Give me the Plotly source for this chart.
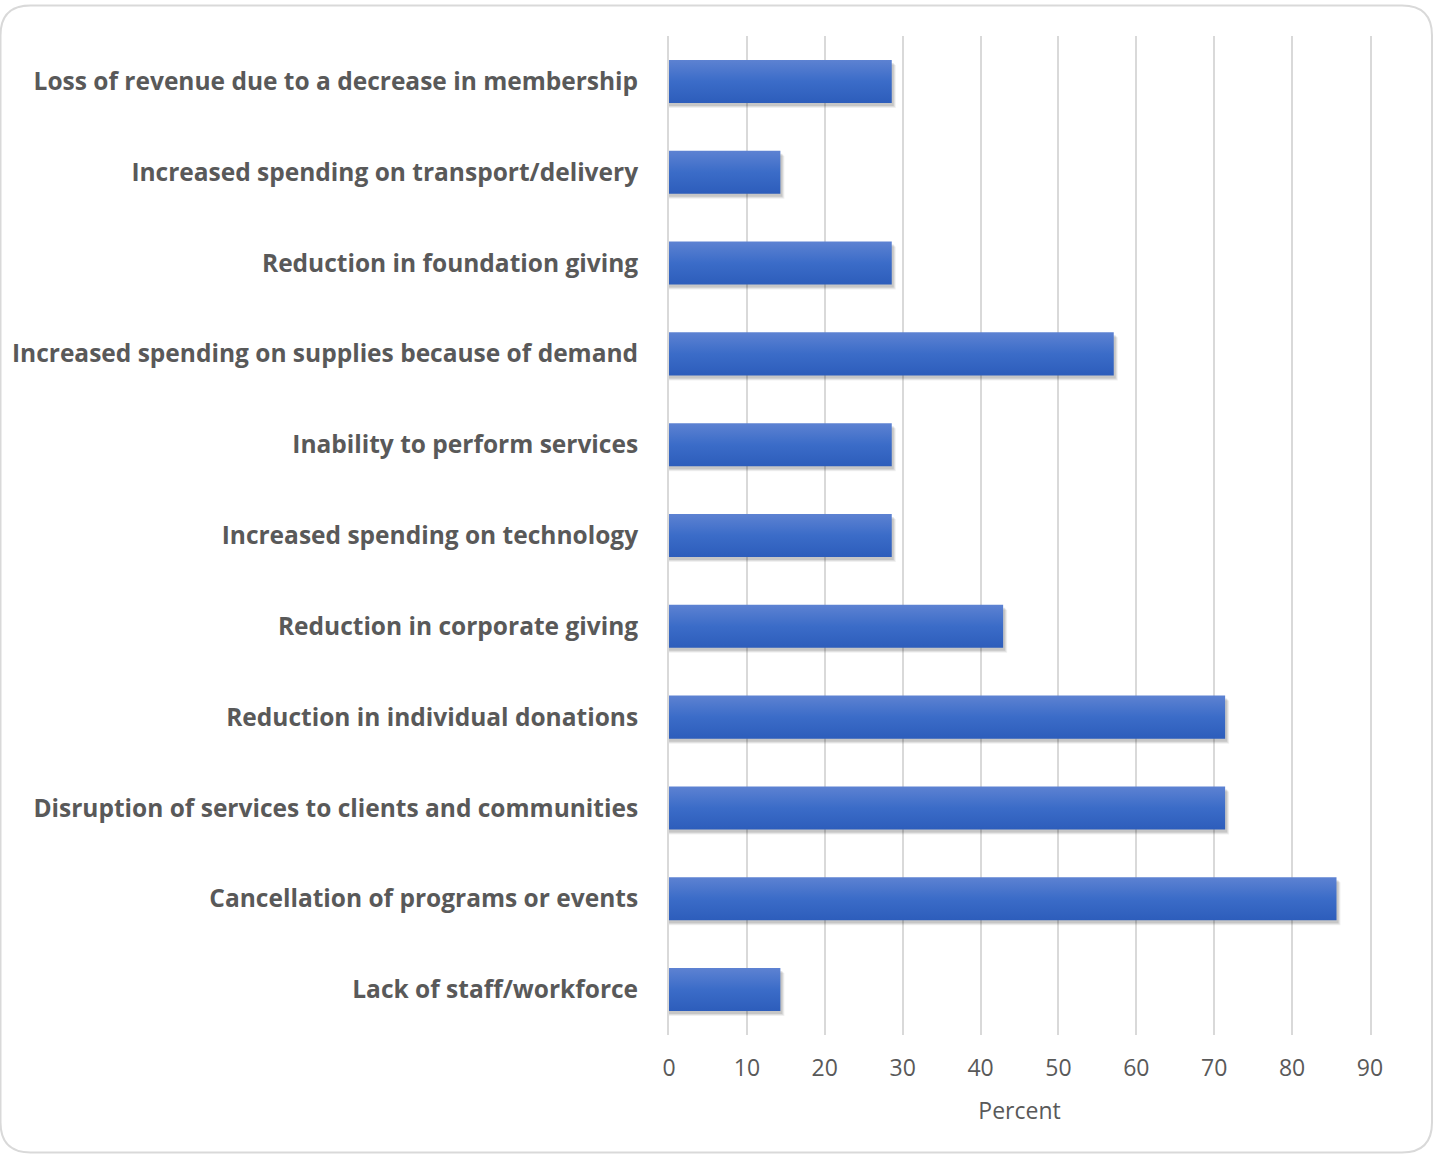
import plotly.graph_objects as go

# Survey: share of organisations reporting each impact (percent)
categories = [
    "Loss of revenue due to a decrease in membership",
    "Increased spending on transport/delivery",
    "Reduction in foundation giving",
    "Increased spending on supplies because of demand",
    "Inability to perform services",
    "Increased spending on technology",
    "Reduction in corporate giving",
    "Reduction in individual donations",
    "Disruption of services to clients and communities",
    "Cancellation of programs or events",
    "Lack of staff/workforce",
]
percent = [28.6, 14.3, 28.6, 57.1, 28.6, 28.6, 42.9, 71.4, 71.4, 85.7, 14.3]
x_ticks = [0, 10, 20, 30, 40, 50, 60, 70, 80, 90]

W, H = 1439, 1155
ML, MR, MT, MB = 669, 69, 35.5, 119.5
X_MAX = 90
n = len(categories)

half = 0.237  # half bar thickness in category units
px_x = (W - ML - MR) / X_MAX          # pixels per percent
px_y = (H - MT - MB) / n              # pixels per category band

GRID = "#d9d9d9"
TEXT = "#595959"

fig = go.Figure()

# first category sits at the top of the axis
ypos = [n - 1 - i for i in range(n)]

for v, y in zip(percent, ypos):
    # soft drop shadow, layered for a blurred edge
    for dx, dy, a in [(4, 5, 0.06), (3, 4, 0.08), (2, 3, 0.10)]:
        ox, oy = dx / px_x, dy / px_y
        fig.add_trace(go.Scatter(
            x=[0, v + ox, v + ox, 0, 0],
            y=[y - half - oy, y - half - oy, y + half - oy, y + half - oy, y - half - oy],
            mode="lines", line=dict(width=0), fill="toself",
            fillcolor=f"rgba(0,0,0,{a})", hoverinfo="skip", showlegend=False,
        ))
    # bar with vertical gradient (lighter at the top)
    fig.add_trace(go.Scatter(
        x=[0, v, v, 0, 0],
        y=[y - half, y - half, y + half, y + half, y - half],
        mode="lines", line=dict(width=0), fill="toself",
        fillgradient=dict(type="vertical",
                          colorscale=[[0, "#2d5dbb"], [0.5, "#3b6cc8"], [1, "#5d82d2"]]),
        hovertemplate=f"%{{text}}: {v}%<extra></extra>",
        text=[categories[n - 1 - y]] * 5,
        showlegend=False,
    ))

fig.update_layout(
    width=W, height=H,
    margin=dict(l=ML, r=MR, t=MT, b=MB),
    paper_bgcolor="white", plot_bgcolor="white",
    font=dict(family="Open Sans, sans-serif", color=TEXT),
    xaxis=dict(
        range=[0, X_MAX], tickvals=x_ticks, ticktext=[str(t) for t in x_ticks],
        showgrid=True, gridcolor=GRID, gridwidth=2,
        zeroline=False, showline=False, ticks="",
        tickfont=dict(size=23, color=TEXT),
        ticklabelstandoff=17,
        title=dict(text="Percent", font=dict(size=23, color=TEXT), standoff=20),
        fixedrange=True,
    ),
    yaxis=dict(
        range=[-0.5, n - 0.5], tickvals=ypos, ticktext=categories,
        showgrid=False, zeroline=False, ticks="",
        # vertical lines at 0 and 90 complete the grid at the plot edges
        showline=True, linecolor=GRID, linewidth=2, mirror=True,
        tickfont=dict(size=24.5, color=TEXT, weight="bold"),
        ticklabelstandoff=24,
        fixedrange=True,
    ),
)

# rounded outer border, positioned in pixels from the plot's lower-left corner
left, right = -ML + 0.5, 1432 - ML
top, bottom = (H - MB) - 6, (H - MB) - 1153
r = 30
path = (f"M {left + r},{top} L {right - r},{top} Q {right},{top} {right},{top - r} "
        f"L {right},{bottom + r} Q {right},{bottom} {right - r},{bottom} "
        f"L {left + r},{bottom} Q {left},{bottom} {left},{bottom + r} "
        f"L {left},{top - r} Q {left},{top} {left + r},{top} Z")
fig.add_shape(type="path", path=path, xref="paper", yref="paper",
              xsizemode="pixel", ysizemode="pixel", xanchor=0, yanchor=0,
              line=dict(color=GRID, width=2), fillcolor="rgba(0,0,0,0)", layer="below")

fig.write_html("out.html")
